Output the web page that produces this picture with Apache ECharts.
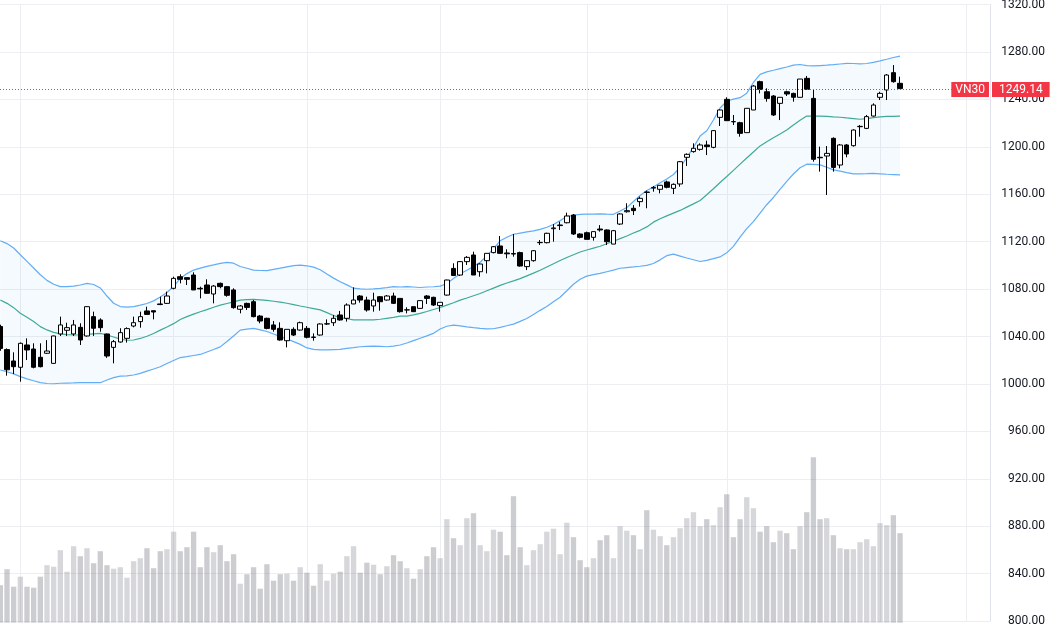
<!DOCTYPE html>
<html>
<head>
<meta charset="utf-8">
<title>VN30</title>
<script src="https://cdn.jsdelivr.net/npm/echarts@6/dist/echarts.min.js"></script>
<style>
  html, body { margin: 0; padding: 0; background: #ffffff; }
  #chart { width: 1050px; height: 630px; }
</style>
</head>
<body>
<div id="chart"></div>
<script>
// ---- data ----
const symbol = 'VN30';
const slotCount = 149;                       // 136 sessions + empty space on the right
const monthStarts = [3, 26, 46, 66, 88, 109, 132, 145];
const priceMin = 800, priceMax = 1320, priceStep = 40;

// [open, close, low, high]
const ohlc = [
  [1048.5,1030.0,1028.0,1050.0],[1029.0,1012.0,1007.0,1030.0],[1019.4,1014.6,1008.4,1026.7],[1014.1,1034.3,1002.0,1035.0],
  [1032.9,1028.7,1020.2,1038.5],[1029.5,1014.1,1013.2,1034.3],[1022.5,1014.6,1014.0,1034.3],[1025.9,1027.8,1025.3,1037.0],
  [1017.4,1040.5,1017.0,1040.8],[1042.2,1049.8,1040.5,1056.8],[1045.3,1047.5,1040.5,1051.7],[1042.2,1049.8,1040.5,1054.0],
  [1047.8,1037.1,1032.9,1051.2],[1040.5,1065.2,1040.0,1065.7],[1056.8,1047.0,1040.5,1061.0],[1054.0,1047.5,1044.1,1055.4],
  [1042.2,1023.6,1022.0,1042.5],[1030.9,1035.7,1017.4,1037.1],[1035.4,1043.3,1034.9,1047.0],[1038.5,1046.7,1034.9,1047.8],
  [1048.9,1051.7,1047.8,1056.8],[1052.6,1056.8,1047.5,1061.0],[1061.6,1058.7,1058.2,1065.2],[1061.8,1060.7,1054.5,1061.8],
  [1067.5,1067.0,1066.5,1073.6],[1068.0,1074.2,1067.5,1077.9],[1080.7,1089.1,1079.8,1090.5],[1090.5,1088.3,1084.9,1092.5],
  [1089.7,1088.3,1083.5,1089.7],[1091.9,1079.3,1079.3,1094.2],[1080.7,1080.2,1072.2,1082.1],[1083.5,1076.5,1075.9,1088.3],
  [1075.9,1082.6,1068.0,1083.5],[1084.9,1082.1,1080.7,1085.5],[1082.1,1074.8,1073.6,1082.6],[1079.3,1064.4,1063.5,1080.7],
  [1063.0,1065.8,1059.6,1066.6],[1068.0,1064.6,1062.4,1068.6],[1069.4,1056.8,1056.2,1070.8],[1057.3,1053.1,1051.2,1058.2],
  [1055.4,1046.9,1046.1,1055.9],[1049.8,1046.1,1044.1,1053.1],[1046.9,1037.1,1036.5,1052.0],[1036.5,1046.1,1030.9,1046.1],
  [1046.1,1041.3,1040.5,1047.8],[1045.5,1051.7,1045.0,1052.6],[1046.9,1039.4,1038.5,1048.9],[1039.6,1039.3,1036.5,1042.7],
  [1041.3,1050.6,1040.8,1051.2],[1050.6,1050.8,1049.8,1054.5],[1051.7,1055.4,1048.9,1058.2],[1058.2,1054.0,1053.4,1061.6],
  [1055.4,1066.6,1052.6,1068.0],[1067.5,1070.8,1067.5,1081.5],[1074.2,1070.8,1068.6,1075.0],[1070.8,1062.4,1061.0,1073.6],
  [1065.8,1070.8,1061.0,1077.0],[1073.6,1069.4,1061.8,1074.2],[1070.8,1074.2,1070.3,1075.0],[1074.2,1068.0,1067.5,1077.0],
  [1072.2,1061.0,1060.2,1072.2],[1062.4,1062.6,1059.6,1064.7],[1065.2,1061.0,1060.7,1065.2],[1063.8,1070.3,1063.5,1070.8],
  [1074.2,1072.2,1067.5,1075.0],[1073.1,1066.6,1065.8,1073.6],[1066.1,1068.9,1061.0,1068.9],[1075.0,1087.7,1074.5,1088.0],
  [1097.5,1091.5,1091.0,1101.8],[1091.9,1103.2,1091.1,1103.7],[1103.2,1106.8,1100.4,1107.9],[1108.8,1091.9,1091.9,1111.6],
  [1094.7,1101.2,1090.5,1101.8],[1104.0,1110.2,1093.3,1110.2],[1110.8,1115.8,1110.2,1116.4],[1116.4,1110.2,1109.6,1124.8],
  [1110.5,1109.8,1106.0,1113.6],[1110.0,1109.6,1107.4,1126.5],[1110.8,1099.5,1099.0,1111.6],[1099.0,1104.0,1096.1,1104.6],
  [1104.0,1112.4,1103.2,1113.0],[1119.2,1119.4,1117.2,1121.4],[1119.2,1127.1,1118.6,1127.6],[1131.0,1131.6,1120.0,1134.9],
  [1133.6,1134.1,1129.9,1136.9],[1136.0,1141.7,1135.5,1144.5],[1142.5,1126.5,1125.7,1143.4],[1126.5,1123.7,1122.8,1127.1],
  [1127.6,1122.0,1122.0,1128.5],[1123.7,1128.5,1120.9,1128.5],[1130.7,1129.9,1128.5,1134.0],[1129.9,1120.0,1117.2,1130.4],
  [1118.0,1129.3,1118.0,1129.9],[1134.9,1143.4,1134.1,1143.9],[1145.3,1146.2,1144.5,1152.4],[1148.2,1146.2,1142.5,1150.9],
  [1153.8,1156.6,1149.6,1158.0],[1161.9,1161.6,1148.2,1163.1],[1165.2,1165.8,1162.2,1167.0],[1164.2,1167.6,1160.8,1167.8],
  [1170.4,1165.9,1165.0,1171.5],[1165.0,1168.4,1160.2,1169.2],[1168.7,1187.5,1166.4,1188.1],[1191.2,1193.7,1183.9,1194.5],
  [1196.0,1198.8,1195.1,1203.0],[1197.9,1201.6,1196.8,1203.0],[1201.6,1200.2,1193.1,1205.2],[1199.6,1213.7,1198.8,1214.2],
  [1224.9,1231.1,1217.6,1231.6],[1240.1,1222.1,1222.1,1241.8],[1221.3,1221.2,1218.4,1226.9],[1220.4,1211.4,1208.6,1221.2],
  [1212.0,1232.5,1212.0,1232.5],[1231.1,1251.3,1231.1,1252.2],[1255.0,1248.5,1245.1,1255.8],[1246.5,1240.9,1238.1,1249.4],
  [1242.9,1226.9,1226.0,1243.7],[1236.7,1241.8,1222.6,1241.8],[1246.5,1244.6,1242.9,1247.4],[1245.1,1241.8,1238.1,1245.7],
  [1241.8,1257.2,1241.8,1257.2],[1257.8,1248.5,1248.5,1259.8],[1240.9,1189.5,1187.5,1248.5],[1191.2,1190.8,1179.1,1200.2],
  [1192.3,1194.5,1159.4,1200.7],[1207.2,1182.7,1179.1,1208.0],[1184.7,1201.6,1181.9,1202.4],[1201.6,1194.0,1191.2,1202.4],
  [1201.0,1214.2,1200.2,1214.8],[1217.0,1217.3,1208.6,1218.4],[1215.6,1225.5,1215.0,1226.9],[1226.0,1235.3,1225.5,1236.7],
  [1241.8,1245.1,1239.5,1246.5],[1248.0,1260.6,1239.5,1261.4],[1262.6,1255.0,1254.1,1269.0],[1253.6,1249.14,1249.14,1259.2]
];

const volume = [
  75,107,72,92,72,70,92,115,112,145,102,153,133,149,119,143,115,108,111,90,
  123,129,149,109,143,147,182,143,151,182,111,151,141,155,123,137,78,97,111,68,
  117,84,97,98,84,111,100,74,117,84,98,102,133,153,100,120,116,97,113,135,
  123,109,88,107,133,151,129,207,169,155,209,219,155,143,186,182,135,253,151,115,
  145,157,182,188,137,200,171,125,111,129,165,175,129,193,184,175,147,225,186,173,
  155,171,189,209,221,193,207,195,231,257,171,207,251,229,182,193,161,184,179,147,
  193,221,331,207,209,175,149,147,147,161,167,153,199,195,215,179
];

const bbUpper = [
  1120.8,1118.4,1114.7,1109.0,1103.4,1097.8,1092.1,1087.4,1084.1,1082.1,
  1082.1,1082.5,1083.5,1084.8,1083.9,1081.0,1074.2,1068.1,1065.3,1064.8,
  1065.3,1066.5,1067.9,1070.1,1073.4,1077.2,1082.2,1089.0,1093.1,1096.1,
  1097.7,1099.2,1100.4,1101.7,1102.6,1101.9,1099.1,1097.6,1096.1,1095.7,
  1095.6,1096.7,1097.7,1098.8,1099.8,1100.2,1099.7,1098.6,1096.3,1092.7,
  1089.3,1086.3,1083.6,1080.8,1080.2,1079.9,1080.2,1080.7,1081.3,1082.1,
  1081.8,1082.2,1081.8,1081.4,1081.8,1082.0,1082.5,1084.8,1088.9,1092.9,
  1095.9,1099.1,1102.7,1108.2,1114.2,1120.8,1123.7,1126.3,1127.3,1128.3,
  1129.2,1130.4,1132.2,1134.5,1137.8,1141.2,1142.3,1143.0,1143.2,1143.3,
  1143.4,1143.2,1143.1,1145.9,1148.8,1153.9,1159.0,1163.2,1166.1,1169.7,
  1172.9,1176.7,1182.6,1190.9,1199.6,1209.1,1213.6,1222.7,1232.8,1238.5,
  1240.3,1241.5,1245.3,1254.3,1261.1,1263.3,1264.6,1266.0,1267.4,1268.9,
  1269.5,1268.6,1268.3,1268.6,1268.9,1269.3,1269.9,1270.4,1270.3,1270.0,
  1270.3,1271.3,1272.5,1273.9,1275.4,1276.6
];

const bbMiddle = [
  1070.8,1068.0,1064.4,1059.7,1056.3,1052.7,1048.4,1045.6,1043.5,1042.2,
  1041.6,1041.3,1041.3,1041.8,1042.3,1042.7,1041.3,1039.6,1037.8,1036.9,
  1037.1,1038.4,1040.3,1042.6,1045.4,1048.1,1050.9,1054.4,1056.8,1058.9,
  1060.9,1062.7,1064.7,1066.5,1067.9,1069.3,1070.7,1071.2,1071.4,1071.0,
  1070.5,1069.8,1069.0,1068.1,1067.0,1065.8,1064.7,1063.6,1062.5,1060.2,
  1057.8,1056.0,1055.0,1054.0,1054.0,1054.0,1054.0,1054.6,1055.4,1056.2,
  1057.2,1057.3,1058.3,1059.5,1061.1,1062.8,1064.5,1066.5,1068.5,1070.7,
  1072.5,1074.4,1076.3,1078.6,1080.9,1083.2,1085.2,1087.0,1088.9,1091.2,
  1093.5,1095.9,1098.7,1101.4,1104.2,1106.7,1109.0,1111.3,1113.0,1114.6,
  1116.2,1118.3,1120.4,1122.6,1124.8,1127.3,1129.6,1132.5,1136.5,1139.4,
  1141.8,1144.1,1146.4,1149.2,1151.9,1154.8,1159.6,1164.7,1169.9,1175.0,
  1180.2,1185.4,1190.6,1195.7,1200.8,1204.4,1207.7,1210.9,1214.2,1218.5,
  1222.4,1226.0,1226.0,1226.0,1225.7,1225.3,1225.0,1224.4,1223.9,1223.3,
  1223.8,1224.6,1225.3,1225.7,1225.8,1226.0
];

const bbLower = [
  1011.8,1010.3,1008.5,1006.2,1004.3,1002.7,1001.2,1000.4,1000.2,1000.6,
  1000.8,1000.9,1001.1,1001.1,1001.1,1001.1,1003.4,1005.4,1006.7,1006.9,
  1007.6,1008.9,1010.8,1012.6,1014.5,1017.3,1019.8,1022.3,1023.1,1024.0,
  1024.9,1027.0,1029.1,1031.3,1035.8,1040.5,1045.4,1046.2,1046.9,1045.7,
  1044.3,1042.2,1039.9,1037.9,1035.7,1033.4,1030.4,1029.2,1028.8,1028.7,
  1029.0,1029.2,1030.1,1030.7,1031.4,1031.7,1032.0,1031.8,1031.4,1032.0,
  1032.9,1034.6,1036.6,1038.6,1040.6,1042.7,1046.4,1048.7,1049.7,1049.0,
  1048.2,1047.5,1046.9,1046.5,1046.6,1047.8,1049.1,1050.5,1052.8,1055.2,
  1058.7,1062.1,1065.3,1069.4,1073.2,1078.6,1084.1,1088.3,1091.0,1092.2,
  1093.3,1094.7,1096.1,1097.6,1098.2,1098.7,1099.3,1100.1,1101.6,1104.7,
  1108.2,1109.5,1107.9,1106.3,1104.8,1103.3,1104.3,1105.7,1107.2,1110.6,
  1116.1,1123.8,1131.0,1137.0,1144.1,1151.2,1157.3,1164.2,1170.9,1177.1,
  1182.4,1185.4,1185.2,1184.8,1182.8,1180.6,1179.5,1178.3,1177.2,1177.3,
  1177.4,1177.6,1177.3,1176.9,1176.6,1176.3
];

// ---- chart ----
const slots = Array.from({ length: slotCount }, (_, i) => String(i));
const lastClose = ohlc[ohlc.length - 1][1];
const bandWidth = bbUpper.map((u, i) => +(u - bbLower[i]).toFixed(2));

const red = '#f23645';
const bandBlue = '#62adf5';
const basisGreen = '#3faa96';
const gridLine = '#eceef2';
const labelFont = 'Roboto, "Liberation Sans", sans-serif';

const chart = echarts.init(document.getElementById('chart'), null, { renderer: 'canvas' });

const gridLeft = -3, gridRight = 60;

chart.setOption({
  animation: false,
  backgroundColor: '#ffffff',
  grid: [
    { left: gridLeft, right: gridRight, top: 4.6, bottom: 8.9, outerBoundsMode: 'none', containLabel: false },
    { left: gridLeft, right: gridRight, top: 222.7, bottom: 7.3, outerBoundsMode: 'none', containLabel: false }
  ],
  xAxis: [
    {
      type: 'category', gridIndex: 0, data: slots, boundaryGap: true,
      axisLine: { show: false }, axisTick: { show: false }, axisLabel: { show: false },
      splitLine: {
        show: true, alignWithLabel: true,
        interval: (idx) => monthStarts.includes(idx),
        lineStyle: { color: gridLine, width: 1 }
      }
    },
    {
      type: 'category', gridIndex: 1, data: slots, boundaryGap: true,
      axisLine: { show: false }, axisTick: { show: false }, axisLabel: { show: false },
      splitLine: { show: false }
    }
  ],
  yAxis: [
    {
      type: 'value', gridIndex: 0, position: 'right', scale: true,
      min: priceMin, max: priceMax, interval: priceStep,
      axisLine: { show: true, lineStyle: { color: '#e0e3eb' } },
      axisTick: { show: false },
      axisLabel: {
        show: true, align: 'right', margin: 55, color: '#131722',
        fontSize: 12, fontFamily: labelFont,
        showMinLabel: true, showMaxLabel: true,
        formatter: (v) => v.toFixed(2)
      },
      splitLine: { show: true, lineStyle: { color: gridLine, width: 1 } }
    },
    {
      type: 'value', gridIndex: 1, min: 0, max: 800, show: false,
      splitLine: { show: false }
    }
  ],
  series: [
    {
      name: 'BB lower', type: 'line', data: bbLower, stack: 'bb',
      showSymbol: false, z: 1, silent: true,
      lineStyle: { color: bandBlue, width: 1.2 }
    },
    {
      name: 'BB upper', type: 'line', data: bandWidth, stack: 'bb',
      showSymbol: false, z: 1, silent: true,
      lineStyle: { color: bandBlue, width: 1.2 },
      areaStyle: { color: 'rgba(33,150,243,0.06)' }
    },
    {
      name: 'BB basis', type: 'line', data: bbMiddle,
      showSymbol: false, z: 1, silent: true,
      lineStyle: { color: basisGreen, width: 1.2 }
    },
    {
      name: 'Volume', type: 'bar', xAxisIndex: 1, yAxisIndex: 1,
      data: volume, barWidth: '80%', z: 0, silent: true,
      itemStyle: {
        color: (p) => ohlc[p.dataIndex][1] >= ohlc[p.dataIndex][0]
          ? 'rgba(120,123,134,0.30)' : 'rgba(120,123,134,0.38)'
      }
    },
    {
      name: symbol, type: 'candlestick', data: ohlc, barWidth: '76%', z: 3, silent: true,
      itemStyle: {
        color: '#ffffff', color0: '#000000',
        borderColor: '#000000', borderColor0: '#000000', borderWidth: 1
      }
    }
  ]
});

// last-price line with the symbol tag and the price tag, placed through the price scale
const py = Math.round(chart.convertToPixel({ yAxisIndex: 0 }, lastClose)) + 0.5;
const axisX = chart.getWidth() - gridRight;
chart.setOption({
  graphic: [
    {
      type: 'line', z: 8, silent: true,
      shape: { x1: 0, y1: py, x2: axisX, y2: py },
      style: { stroke: red, lineWidth: 1, lineDash: [1, 2] }
    },
    {
      type: 'text', x: axisX - 1, y: py, z: 10, silent: true,
      style: {
        text: symbol, fill: '#ffffff', font: '12px ' + labelFont,
        align: 'right', verticalAlign: 'middle',
        backgroundColor: red, padding: [2, 4, 1, 4]
      }
    },
    {
      type: 'text', x: axisX + 2, y: py, z: 10, silent: true,
      style: {
        text: lastClose.toFixed(2), fill: '#ffffff', font: '12px ' + labelFont,
        align: 'left', verticalAlign: 'middle',
        backgroundColor: red, padding: [2, 7, 1, 7]
      }
    }
  ]
});
</script>
</body>
</html>
